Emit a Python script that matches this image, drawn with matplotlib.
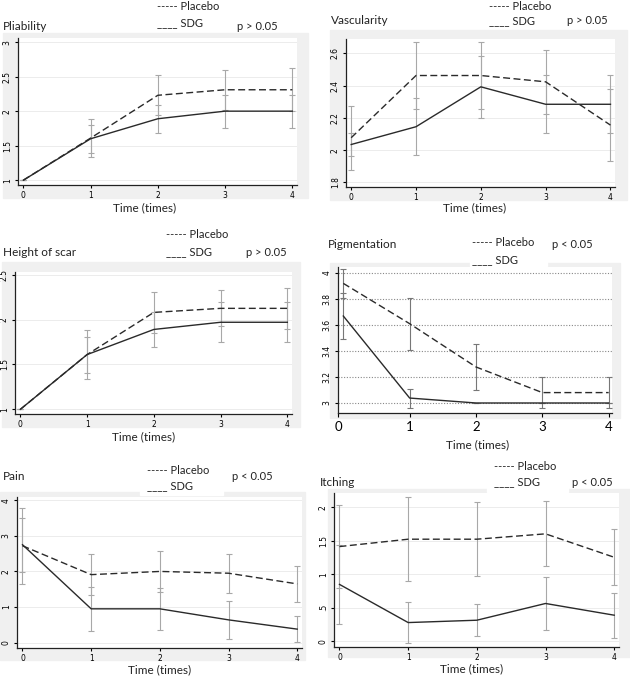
import numpy as np
import matplotlib
matplotlib.use('Agg')
import matplotlib.pyplot as plt
from matplotlib.patches import Rectangle

plt.rcParams['font.family'] = ['Lato', 'DejaVu Sans']

# ---- data ----
times = [0, 1, 2, 3, 4]

pliability_placebo = [1.0, 1.61, 2.23, 2.31, 2.31]
pliability_placebo_err = [0, 0.27, 0.29, 0.29, 0.31]
pliability_sdg = [1.0, 1.60, 1.89, 2.00, 2.00]
pliability_sdg_err = [0, 0.20, 0.20, 0.24, 0.24]

vascularity_placebo = [2.077, 2.462, 2.462, 2.423, 2.155]
vascularity_placebo_err = [0.197, 0.206, 0.206, 0.20, 0.222]
vascularity_sdg = [2.035, 2.145, 2.392, 2.284, 2.284]
vascularity_sdg_err = [0.073, 0.175, 0.193, 0.18, 0.18]

height_placebo = [1.0, 1.61, 2.08, 2.125, 2.125]
height_placebo_err = [0, 0.27, 0.226, 0.20, 0.23]
height_sdg = [1.0, 1.61, 1.89, 1.97, 1.97]
height_sdg_err = [0, 0.20, 0.19, 0.225, 0.225]

pigmentation_placebo = [3.92, 3.61, 3.277, 3.08, 3.08]
pigmentation_placebo_err = [0.11, 0.20, 0.18, 0.117, 0.117]
pigmentation_sdg = [3.669, 3.038, 3.0, 3.0, 3.0]
pigmentation_sdg_err = [0.18, 0.073, 0, 0, 0]

pain_placebo = [2.72, 1.91, 2.0, 1.95, 1.65]
pain_placebo_err = [1.07, 0.585, 0.585, 0.545, 0.515]
pain_sdg = [2.75, 0.95, 0.95, 0.64, 0.38]
pain_sdg_err = [0.76, 0.62, 0.585, 0.525, 0.375]

itching_placebo = [1.415, 1.525, 1.525, 1.605, 1.255]
itching_placebo_err = [0.615, 0.628, 0.55, 0.485, 0.42]
itching_sdg = [0.85, 0.28, 0.315, 0.565, 0.39]
itching_sdg_err = [0.595, 0.30, 0.24, 0.40, 0.335]

W, H = 630, 687
fig = plt.figure(figsize=(W / 100, H / 100), dpi=100)


def fx(x):
    return x / W


def fy(y):
    return 1 - y / H


def gray_box(l, t, r, b, color='#f0f0f0'):
    fig.patches.append(Rectangle((fx(l), fy(b)), fx(r - l), (b - t) / H,
                                 transform=fig.transFigure, color=color, zorder=-5))


def text(x, y, s, size=8, ha='left'):
    fig.text(fx(x), fy(y), s, fontsize=size, ha=ha, va='center', color='#222222')


# one dict per panel: pixel boxes, ranges, labels
panels = [
    dict(title='Pliability', p='p > 0.05', ax=(18, 38, 297, 185), bg=(3, 33, 308, 198),
         ylim=(0.93, 3.06), yticks=[1, 1.5, 2, 2.5, 3], ylab=['1', '1.5', '2', '2.5', '3'],
         data=(pliability_placebo, pliability_placebo_err, pliability_sdg, pliability_sdg_err),
         tpos=(3, 26), lpos=(157, 7, 23), ppos=(237, 26), xl=(145, 208), white=None),
    dict(title='Vascularity', p='p > 0.05', ax=(346, 39, 615, 187), bg=(330, 30, 627, 200),
         ylim=(1.772, 2.688), yticks=[1.8, 2, 2.2, 2.4, 2.6], ylab=['1.8', '2', '2.2', '2.4', '2.6'],
         data=(vascularity_placebo, vascularity_placebo_err, vascularity_sdg, vascularity_sdg_err),
         tpos=(331, 20), lpos=(489, 6, 21), ppos=(567, 21), xl=(475, 208), white=None),
    dict(title='Height of scar', p='p > 0.05', ax=(15, 272, 292, 414), bg=(2, 262, 300, 427),
         ylim=(0.948, 2.53), yticks=[1, 1.5, 2, 2.5], ylab=['1', '1.5', '2', '2.5'],
         data=(height_placebo, height_placebo_err, height_sdg, height_sdg_err),
         tpos=(3, 253), lpos=(166, 235, 252), ppos=(246, 253), xl=(144, 437), white=None),
    dict(title='Pigmentation', p='p < 0.05', ax=(338, 267, 612, 413), bg=(330, 263, 620, 418),
         ylim=(2.923, 4.046), yticks=[3, 3.2, 3.4, 3.6, 3.8, 4], ylab=['3', '3.2', '3.4', '3.6', '3.8', '4'],
         data=(pigmentation_placebo, pigmentation_placebo_err, pigmentation_sdg, pigmentation_sdg_err),
         tpos=(328, 245), lpos=(472, 242, 260), ppos=(552, 245), xl=(478, 445),
         white=(470, 228, 547, 266)),
    dict(title='Pain', p='p < 0.05', ax=(17, 497, 302, 648), bg=(0, 492, 305, 660),
         ylim=(-0.15, 4.09), yticks=[0, 1, 2, 3, 4], ylab=['0', '1', '2', '3', '4'],
         data=(pain_placebo, pain_placebo_err, pain_sdg, pain_sdg_err),
         tpos=(3, 477), lpos=(147, 471, 486), ppos=(232, 477), xl=(160, 670),
         white=(140, 460, 223, 495)),
    dict(title='Itching', p='p < 0.05', ax=(334, 493, 619, 647), bg=(328, 489, 630, 657),
         ylim=(-0.085, 2.215), yticks=[0, 0.5, 1, 1.5, 2], ylab=['0', '.5', '1', '1.5', '2'],
         data=(itching_placebo, itching_placebo_err, itching_sdg, itching_sdg_err),
         tpos=(320, 482), lpos=(494, 466, 482), ppos=(572, 482), xl=(472, 669),
         white=(487, 460, 568, 492)),
]

for i, pn in enumerate(panels):
    pig = pn['title'] == 'Pigmentation'
    gray_box(*pn['bg'])
    if pn['white'] is not None:
        gray_box(*pn['white'], color='white')
    l, t, r, b = pn['ax']
    ax = fig.add_axes([fx(l), fy(b), fx(r - l), (b - t) / H])
    ax.set_facecolor('white')
    placebo, placebo_err, sdg, sdg_err = pn['data']
    ecol = '#777777' if pig else '#a8a8a8'
    ax.errorbar(times, placebo, yerr=placebo_err, fmt='none', ecolor=ecol,
                elinewidth=0.8, capsize=2, capthick=0.8, zorder=2)
    ax.errorbar(times, sdg, yerr=sdg_err, fmt='none', ecolor=ecol,
                elinewidth=0.8, capsize=2, capthick=0.8, zorder=2)
    ax.plot(times, placebo, color='#2a2a2a', lw=1.0, ls=(0, (5, 2.5)), zorder=3)
    ax.plot(times, sdg, color='#2a2a2a', lw=1.0, zorder=3)

    ax.set_ylim(*pn['ylim'])
    ax.set_yticks(pn['yticks'], labels=pn['ylab'])
    if pig:
        ax.set_xlim(-0.08, 4.05)
        ax.set_xticks([-0.08, 1, 2, 3, 4], labels=['0', '1', '2', '3', '4'])
        ax.tick_params(axis='x', labelsize=9.5, length=3, pad=3)
        for v in pn['yticks']:
            ax.axhline(v, color='#888888', lw=0.8, ls=(0, (1, 1.5)), zorder=1)
    else:
        ax.set_xlim(-0.08, 4.07)
        ax.set_xticks(times)
        ax.tick_params(axis='x', labelsize=5.5, length=2.5, pad=2)
        for v in pn['yticks']:
            ax.axhline(v, color='#ececec', lw=0.7, zorder=1)
    ax.tick_params(axis='y', labelsize=5.5, length=2.5, pad=2)
    for lab in ax.get_yticklabels():
        lab.set_rotation(90)
        lab.set_va('center')
        lab.set_family(['DejaVu Sans'])
    if not pig:
        for lab in ax.get_xticklabels():
            lab.set_family(['DejaVu Sans'])
    for s in ['top', 'right']:
        ax.spines[s].set_visible(False)
    for s in ['left', 'bottom']:
        ax.spines[s].set_color('#222222')
        ax.spines[s].set_linewidth(0.9)

    text(pn['tpos'][0], pn['tpos'][1], pn['title'], size=8.5)
    lx, ly1, ly2 = pn['lpos']
    text(lx, ly1, '----- Placebo', size=8)
    text(lx, ly2, '____ SDG', size=8)
    text(pn['ppos'][0], pn['ppos'][1], pn['p'], size=8)
    text(pn['xl'][0], pn['xl'][1], 'Time (times)', size=8.5, ha='center')

fig.savefig('out.png', dpi=100)
